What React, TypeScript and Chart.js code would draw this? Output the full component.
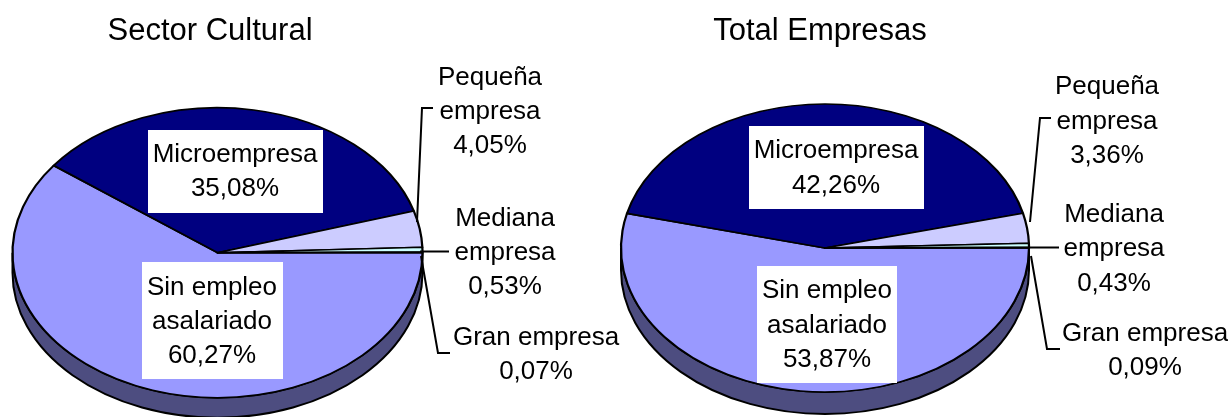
import React, { useEffect, useRef } from "react";
import { Chart, registerables } from "chart.js";

Chart.register(...registerables);

const categories = ["Sin empleo asalariado", "Microempresa", "Pequeña empresa", "Mediana empresa", "Gran empresa"];
const sectorCultural = [60.27, 35.08, 4.05, 0.53, 0.07];
const totalEmpresas = [53.87, 42.26, 3.36, 0.43, 0.09];
const sliceColors = ["#9999FF", "#000080", "#CCCCFF", "#CCFFFF", "#FFFFCC"];
const labelLines = [["Sin empleo", "asalariado"], ["Microempresa"], ["Pequeña", "empresa"], ["Mediana", "empresa"], ["Gran empresa"]];

const FONT = '"Liberation Sans", Arial, sans-serif';
const LABEL_SIZE = 26;
const WALL = "#4D4D80";

type Layout = {
  canvasLeft: number;
  canvasWidth: number;
  cx: number;
  cy: number;
  rx: number;
  ry: number;
  depth: number;
  labels: { x: number; ys: number[]; box?: number[] }[];
  leaders: number[][][];
};

const leftLayout: Layout = {
  canvasLeft: -210,
  canvasWidth: 840,
  cx: 217.5,
  cy: 252.7,
  rx: 205,
  ry: 145,
  depth: 20,
  labels: [
    { x: 212, ys: [287, 321, 355], box: [142, 262, 283, 379] },
    { x: 235, ys: [154, 188], box: [148, 130, 323, 213] },
    { x: 490, ys: [77, 111, 145] },
    { x: 505, ys: [218, 252, 286] },
    { x: 536, ys: [337, 371] },
  ],
  leaders: [
    [[433, 108], [422, 108], [417, 222]],
    [[420, 251.5], [449, 251.5]],
    [[421, 256], [438, 353], [450, 353]],
  ],
};

const rightLayout: Layout = {
  canvasLeft: 412,
  canvasWidth: 816,
  cx: 825,
  cy: 248,
  rx: 204,
  ry: 144,
  depth: 22,
  labels: [
    { x: 827, ys: [290, 325, 359], box: [757, 266, 897, 383] },
    { x: 836, ys: [150, 185], box: [749, 126, 924, 209] },
    { x: 1107, ys: [86, 121, 155] },
    { x: 1114, ys: [214, 248, 283] },
    { x: 1145, ys: [333, 367] },
  ],
  leaders: [
    [[1051, 118], [1040, 118], [1030, 222]],
    [[1030, 247.5], [1059, 247.5]],
    [[1031, 256], [1047, 349], [1060, 349]],
  ],
};

const percent = (v: number) => v.toFixed(2).replace(".", ",") + "%";

function piePlugin(layout: Layout, values: number[]) {
  return {
    id: "flatPie",
    beforeDatasetsDraw(chart: any) {
      const ctx = chart.ctx;
      const arc = chart.getDatasetMeta(0).data[0];
      const { canvasLeft, cx, cy, rx, ry, depth } = layout;
      const x = cx - canvasLeft;
      // side wall of the tilted pie
      ctx.save();
      ctx.beginPath();
      ctx.ellipse(x, cy, rx, ry, 0, 0, Math.PI, false);
      ctx.ellipse(x, cy + depth, rx, ry, 0, Math.PI, 0, true);
      ctx.closePath();
      ctx.fillStyle = WALL;
      ctx.strokeStyle = "#000";
      ctx.lineWidth = 2;
      ctx.fill();
      ctx.stroke();
      ctx.restore();
      // tilt the library's arcs into an ellipse
      ctx.save();
      ctx.translate(x, cy);
      ctx.scale(rx / arc.outerRadius, ry / arc.outerRadius);
      ctx.translate(-arc.x, -arc.y);
    },
    afterDatasetsDraw(chart: any) {
      const ctx = chart.ctx;
      ctx.restore();
      ctx.save();
      ctx.translate(-layout.canvasLeft, 0);
      ctx.strokeStyle = "#000";
      ctx.lineWidth = 2;
      layout.leaders.forEach((pts) => {
        ctx.beginPath();
        pts.forEach((p, i) => (i ? ctx.lineTo(p[0], p[1]) : ctx.moveTo(p[0], p[1])));
        ctx.stroke();
      });
      ctx.font = `${LABEL_SIZE}px ${FONT}`;
      ctx.textAlign = "center";
      ctx.textBaseline = "middle";
      layout.labels.forEach((l, i) => {
        if (l.box) {
          ctx.fillStyle = "#fff";
          ctx.fillRect(l.box[0], l.box[1], l.box[2] - l.box[0], l.box[3] - l.box[1]);
        }
        ctx.fillStyle = "#000";
        [...labelLines[i], percent(values[i])].forEach((t, k) => ctx.fillText(t, l.x, l.ys[k] + 1));
      });
      ctx.restore();
    },
  };
}

function Pie({ layout, title, values }: { layout: Layout; title: string; values: number[] }) {
  const ref = useRef<HTMLCanvasElement>(null);
  useEffect(() => {
    const chart = new Chart(ref.current as HTMLCanvasElement, {
      type: "pie",
      data: {
        labels: categories,
        datasets: [
          {
            data: values,
            backgroundColor: sliceColors,
            borderColor: "#000",
            borderWidth: 2,
            borderJoinStyle: "round",
            clip: false,
          } as any,
        ],
      },
      options: {
        responsive: false,
        animation: false,
        rotation: 90,
        events: [],
        plugins: {
          legend: { display: false },
          tooltip: { enabled: false },
          title: {
            display: true,
            text: title,
            color: "#000",
            font: { family: FONT, size: 31, weight: "normal" },
            padding: { top: 13, bottom: 0 },
          },
        },
      },
      plugins: [piePlugin(layout, values)],
    } as any);
    return () => chart.destroy();
  }, []);
  return (
    <canvas
      ref={ref}
      width={layout.canvasWidth}
      height={417}
      style={{ position: "absolute", left: layout.canvasLeft, top: 0, width: layout.canvasWidth, height: 417 }}
    />
  );
}

export default function App() {
  return (
    <div style={{ position: "fixed", left: 0, top: 0, width: 1228, height: 417, overflow: "hidden", background: "#fff" }}>
      <Pie layout={leftLayout} title="Sector Cultural" values={sectorCultural} />
      <Pie layout={rightLayout} title="Total Empresas" values={totalEmpresas} />
    </div>
  );
}
